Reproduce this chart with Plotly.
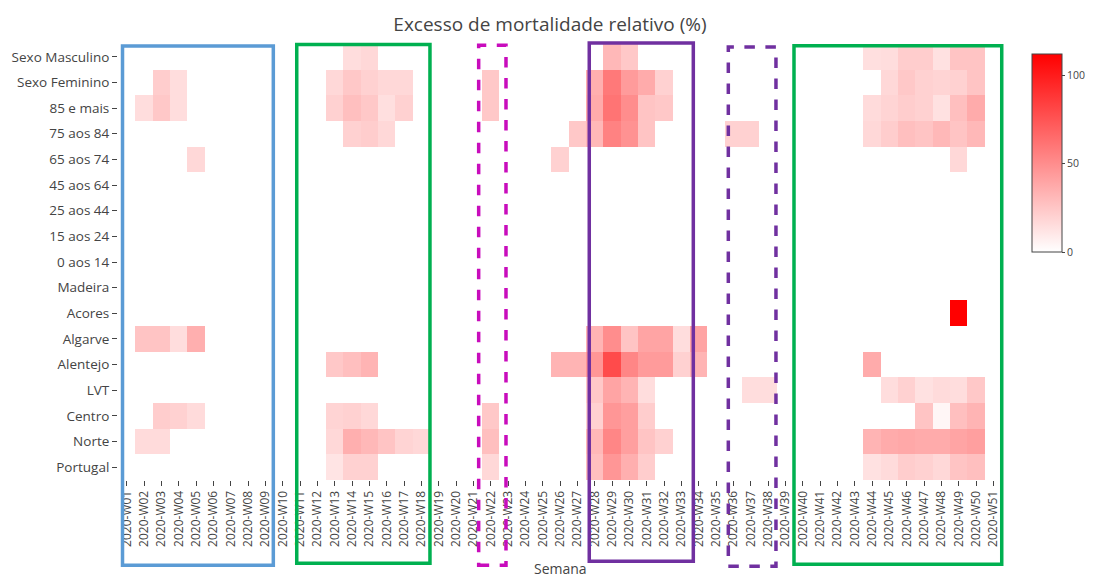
import plotly.graph_objects as go

weeks = [f"2020-W{i:02d}" for i in range(1, 52)]

rows = ["Portugal", "Norte", "Centro", "LVT", "Alentejo", "Algarve", "Acores",
        "Madeira", "0 aos 14", "15 aos 24", "25 aos 44", "45 aos 64",
        "65 aos 74", "75 aos 84", "85 e mais", "Sexo Feminino", "Sexo Masculino"]

# excess mortality (%) per week number, only weeks with excess
portugal = {13: 12, 14: 20, 15: 20, 22: 17, 28: 28, 29: 46, 30: 35, 31: 22,
            44: 13, 45: 16, 46: 22, 47: 20, 48: 17, 49: 26, 50: 28}
norte = {2: 16, 3: 16, 13: 17, 14: 35, 15: 31, 16: 26, 17: 19, 18: 17, 22: 28,
         28: 31, 29: 53, 30: 42, 31: 26, 32: 20,
         44: 33, 45: 37, 46: 38, 47: 37, 48: 37, 49: 40, 50: 42}
centro = {3: 22, 4: 20, 5: 16, 13: 19, 14: 20, 15: 17, 22: 24,
          28: 20, 29: 46, 30: 42, 31: 22, 47: 26, 48: 4, 49: 28, 50: 33}
lvt = {28: 24, 29: 40, 30: 33, 31: 15, 37: 15, 38: 15,
       45: 15, 46: 20, 47: 13, 48: 16, 49: 15, 50: 24}
alentejo = {13: 24, 14: 28, 15: 33, 26: 33, 27: 33, 28: 46, 29: 79, 30: 53,
            31: 44, 32: 44, 33: 20, 34: 33, 44: 37}
algarve = {2: 26, 3: 26, 4: 15, 5: 35, 28: 33, 29: 50, 30: 26, 31: 40,
           32: 40, 33: 15, 34: 40}
acores = {49: 112}
madeira = {}
age_0_14 = {}
age_15_24 = {}
age_25_44 = {}
age_45_64 = {}
age_65_74 = {5: 17, 26: 20, 49: 17}
age_75_84 = {14: 20, 15: 22, 16: 17, 27: 24, 28: 31, 29: 55, 30: 48, 31: 26,
             36: 20, 37: 20, 44: 17, 45: 22, 46: 28, 47: 26, 48: 31, 49: 26, 50: 31}
age_85_plus = {2: 15, 3: 24, 4: 15, 13: 20, 14: 28, 15: 24, 16: 14, 17: 20,
               22: 24, 28: 37, 29: 61, 30: 50, 31: 26, 32: 24,
               44: 16, 45: 19, 46: 22, 47: 20, 48: 13, 49: 28, 50: 37}
sexo_feminino = {3: 22, 4: 15, 13: 17, 14: 24, 15: 20, 16: 17, 17: 17, 22: 24,
                 28: 35, 29: 59, 30: 44, 31: 37, 32: 20,
                 45: 17, 46: 24, 47: 20, 48: 19, 49: 20, 50: 26}
sexo_masculino = {14: 15, 15: 17, 29: 31, 30: 24,
                  44: 14, 45: 15, 46: 22, 47: 22, 48: 13, 49: 26, 50: 26}

series = [portugal, norte, centro, lvt, alentejo, algarve, acores, madeira,
          age_0_14, age_15_24, age_25_44, age_45_64, age_65_74, age_75_84,
          age_85_plus, sexo_feminino, sexo_masculino]

z = [[s.get(i, None) for i in range(1, 52)] for s in series]

fig = go.Figure(go.Heatmap(
    x=weeks, y=rows, z=z,
    colorscale=[[0, "#ffffff"], [1, "#ff0000"]],
    zmin=0, zmax=112,
    colorbar=dict(len=0.5, y=1, yanchor="top", thickness=30,
                  x=1.034, xanchor="left", xpad=0,
                  outlinewidth=1, outlinecolor="#444",
                  tick0=0, dtick=50, ticks="outside", ticklen=3,
                  tickcolor="#444",
                  tickfont=dict(size=10.5, color="#444")),
))

# highlight rectangles (paper coordinates)
boxes = [
    (0.0051, 0.1757, 0.9954, -0.1956, "#5b9bd5", "solid"),
    (0.2022, 0.3529, 0.9989, -0.1910, "#00b050", "solid"),
    (0.4080, 0.4389, 0.9970, -0.1956, "#c80cbc", "dash"),
    (0.5331, 0.6508, 1.0021, -0.1864, "#7030a0", "solid"),
    (0.6904, 0.7443, 0.9931, -0.1979, "#7030a0", "dash"),
    (0.7647, 0.9997, 0.9959, -0.1933, "#00b050", "solid"),
]
for x0, x1, y0, y1, col, dash in boxes:
    fig.add_shape(type="rect", xref="paper", yref="paper",
                  x0=x0, x1=x1, y0=y1, y1=y0,
                  line=dict(color=col, width=3.5, dash=dash),
                  fillcolor="rgba(0,0,0,0)")

# x-axis title placed as an annotation below the rotated tick labels
fig.add_annotation(text="Semana", xref="paper", yref="paper", x=0.5, y=-0.2025,
                   xanchor="center", yanchor="middle", showarrow=False,
                   font=dict(size=14, color="#444"))

fig.update_layout(
    template="none",
    width=1096, height=577,
    margin=dict(l=110, r=102, t=36, b=105, autoexpand=False),
    paper_bgcolor="white", plot_bgcolor="white",
    font=dict(family="Open Sans", color="#444", size=12),
    title=dict(text="Excesso de mortalidade relativo (%)", x=0.4945, xanchor="center",
               y=0.9723, yanchor="middle", font=dict(size=19, color="#444")),
    xaxis=dict(tickangle=-90, ticks="outside", ticklen=5, tickcolor="#444",
               showgrid=False, zeroline=False, showline=False, automargin=False,
               tickfont=dict(size=12)),
    yaxis=dict(ticks="outside", ticklen=5, tickcolor="#444",
               showgrid=False, zeroline=False, showline=False, automargin=False,
               tickfont=dict(size=13.5)),
)

fig.write_html("out.html")
